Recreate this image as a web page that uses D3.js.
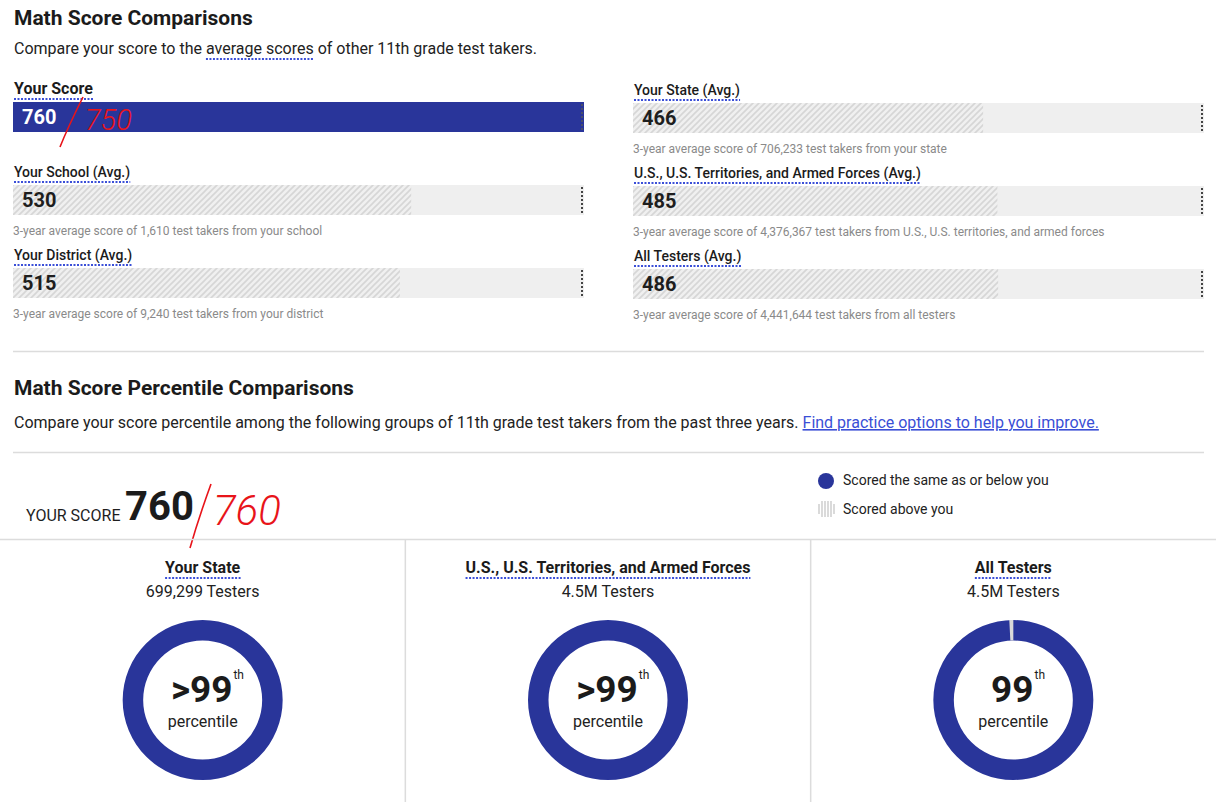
<!DOCTYPE html>
<html>
<head>
<meta charset="utf-8">
<script src="https://cdn.jsdelivr.net/npm/d3@7"></script>
<style>
  body { margin: 0; background: #fff; font-family: Roboto, "Noto Sans", sans-serif; }
  svg text { font-family: Roboto, "Noto Sans", sans-serif; }
</style>
</head>
<body>
<script>
// ---- data ----
const barLabels = ["Your Score", "Your School (Avg.)", "Your District (Avg.)",
                   "Your State (Avg.)", "U.S., U.S. Territories, and Armed Forces (Avg.)", "All Testers (Avg.)"];
const barValues = [760, 530, 515, 466, 485, 486];
const barNotes = ["",
  "3-year average score of 1,610 test takers from your school",
  "3-year average score of 9,240 test takers from your district",
  "3-year average score of 706,233 test takers from your state",
  "3-year average score of 4,376,367 test takers from U.S., U.S. territories, and armed forces",
  "3-year average score of 4,441,644 test takers from all testers"];

const groupNames = ["Your State", "U.S., U.S. Territories, and Armed Forces", "All Testers"];
const groupTesters = ["699,299 Testers", "4.5M Testers", "4.5M Testers"];
const percentileText = [">99", ">99", "99"];
const shareBelow = [99.95, 99.95, 99.2];   // % scored same or below

const yourScore = 760;

// ---- page setup ----
var width = 1219, height = 802;
var navy = "#29359a";
var dotBlue = "#3b4fd8";

var svg = d3.select("body").append("svg")
    .attr("width", width)
    .attr("height", height);

// hatch pattern for average bars
var defs = svg.append("defs");
var hatch = defs.append("pattern")
    .attr("id", "hatch")
    .attr("patternUnits", "userSpaceOnUse")
    .attr("width", 6).attr("height", 6);
hatch.append("rect").attr("width", 6).attr("height", 6).attr("fill", "#f0f0f0");
hatch.append("path")
    .attr("d", "M-1,7 L7,-1 M-4,4 L4,-4 M2,10 L10,2")
    .attr("stroke", "#d6d6d6").attr("stroke-width", 1.6);

// dotted underline helper
function underline(sel, y, color) {
  sel.each(function() {
    const bb = this.getBBox();
    d3.select(this.parentNode).append("line")
      .attr("x1", bb.x).attr("x2", bb.x + bb.width)
      .attr("y1", y).attr("y2", y)
      .attr("stroke", color || dotBlue)
      .attr("stroke-width", 2)
      .attr("stroke-dasharray", "2,1.5");
  });
}

// ----------------------------------------------------------- //
// section 1: score comparisons

svg.append("text").attr("x", 14).attr("y", 25)
  .attr("font-size", 21).attr("font-weight", 700).attr("fill", "#1b1b1b")
  .text("Math Score Comparisons");

var sub = svg.append("g");
var subText = sub.append("text").attr("x", 14).attr("y", 54)
  .attr("font-size", 16).attr("fill", "#222");
subText.append("tspan").text("Compare your score to the ");
subText.append("tspan").text("average scores");
subText.append("tspan").text(" of other 11th grade test takers.");
(function() {
  const t = subText.node();
  const pre = "Compare your score to the ".length;
  const x0 = 14 + t.getSubStringLength(0, pre);
  const w = t.getSubStringLength(pre, "average scores".length);
  sub.append("line").attr("x1", x0).attr("x2", x0 + w).attr("y1", 59).attr("y2", 59)
    .attr("stroke", dotBlue).attr("stroke-width", 2).attr("stroke-dasharray", "2,1.5");
})();

var barW = 571, barH = 30;
var xScale = d3.scaleLinear()
  .domain([0, d3.max(barValues)])
  .range([0, barW]);

var colX = [13, 633];
var rowTop = 102, rowStep = 83;

var rows = svg.selectAll("g.row")
  .data(barValues.map((v, i) => ({ v: v, label: barLabels[i], note: barNotes[i], i: i })))
  .enter().append("g")
  .attr("class", "row")
  .attr("transform", d => `translate(${colX[Math.floor(d.i / 3)]},${rowTop + (d.i % 3) * rowStep + (d.i >= 3 ? 1 : 0)})`);

rows.each(function(d) {
  const g = d3.select(this);
  const isYou = d.i === 0;

  const lab = g.append("text").attr("x", 1).attr("y", -8)
    .attr("font-size", isYou ? 16 : 14)
    .attr("font-weight", isYou ? 700 : 500)
    .attr("fill", "#1b1b1b")
    .text(d.label);
  underline(lab, -3);

  // track
  g.append("rect").attr("width", barW).attr("height", barH).attr("fill", "#efefef");
  // value
  g.append("rect").attr("width", xScale(d.v)).attr("height", barH)
    .attr("fill", isYou ? navy : "url(#hatch)");
  // your-score marker
  g.append("line")
    .attr("x1", xScale(yourScore) - 2).attr("x2", xScale(yourScore) - 2)
    .attr("y1", 2).attr("y2", barH)
    .attr("stroke", isYou ? "#4a4f6a" : "#444").attr("stroke-width", 2)
    .attr("stroke-dasharray", "2,2");

  g.append("text").attr("x", 9).attr("y", 22)
    .attr("font-size", 20).attr("font-weight", 700)
    .attr("fill", isYou ? "#fff" : "#1e1e1e")
    .text(d.v);

  if (d.note) {
    g.append("text").attr("x", 0).attr("y", 50)
      .attr("font-size", 12).attr("fill", "#8a8a8a")
      .text(d.note);
  }
});

// handwritten correction on the score bar
svg.append("path").attr("d", "M60,147 C66,132 74,115 83,97")
  .attr("fill", "none").attr("stroke", "#e8141a").attr("stroke-width", 1.6);
svg.append("text").attr("x", 85).attr("y", 130)
  .attr("font-size", 29).attr("font-weight", 300).attr("fill", "#e8141a")
  .attr("font-style", "italic")
  .text("750");

// separator
svg.append("line").attr("x1", 13).attr("x2", 1204).attr("y1", 351.5).attr("y2", 351.5)
  .attr("stroke", "#dcdcdc").attr("stroke-width", 1.5);

// ----------------------------------------------------------- //
// section 2: percentile comparisons

svg.append("text").attr("x", 14).attr("y", 395)
  .attr("font-size", 21).attr("font-weight", 700).attr("fill", "#1b1b1b")
  .text("Math Score Percentile Comparisons");

var sub2 = svg.append("text").attr("x", 14).attr("y", 428)
  .attr("font-size", 16).attr("fill", "#222");
sub2.append("tspan").text("Compare your score percentile among the following groups of 11th grade test takers from the past three years. ");
sub2.append("tspan").attr("fill", "#3a4fd6").attr("text-decoration", "underline")
  .text("Find practice options to help you improve.");

svg.append("line").attr("x1", 13).attr("x2", 1204).attr("y1", 452.5).attr("y2", 452.5)
  .attr("stroke", "#dcdcdc").attr("stroke-width", 1.5);

// your score
svg.append("text").attr("x", 26).attr("y", 521)
  .attr("font-size", 16).attr("fill", "#1e1e1e")
  .text("YOUR SCORE");
svg.append("text").attr("x", 125).attr("y", 520)
  .attr("font-size", 40).attr("font-weight", 700).attr("fill", "#1b1b1b")
  .text(yourScore);

svg.append("path").attr("d", "M190,548 C196,527 203,506 211,484")
  .attr("fill", "none").attr("stroke", "#e8141a").attr("stroke-width", 1.6);
svg.append("text").attr("x", 213).attr("y", 525)
  .attr("font-size", 42).attr("font-weight", 300).attr("fill", "#e8141a")
  .attr("font-style", "italic")
  .text("760");

// legend
var legend = svg.append("g").attr("transform", "translate(826,0)");
legend.append("circle").attr("cx", 0).attr("cy", 481).attr("r", 8).attr("fill", navy);
legend.append("text").attr("x", 17).attr("y", 485)
  .attr("font-size", 14).attr("fill", "#222").text("Scored the same as or below you");
legend.selectAll("line.tick")
  .data([-7, -4, -1, 2, 5, 8])
  .enter().append("line")
  .attr("x1", d => d).attr("x2", d => d)
  .attr("y1", d => 509 - (Math.abs(d) > 6 ? 5 : 8))
  .attr("y2", d => 509 + (Math.abs(d) > 6 ? 5 : 8))
  .attr("stroke", "#b5b5b5").attr("stroke-width", 1);
legend.append("text").attr("x", 17).attr("y", 514)
  .attr("font-size", 14).attr("fill", "#222").text("Scored above you");

// grid lines
svg.append("line").attr("x1", 0).attr("x2", 1216).attr("y1", 539.5).attr("y2", 539.5)
  .attr("stroke", "#dcdcdc").attr("stroke-width", 1.5);

var colScale = d3.scaleBand().domain(groupNames).range([0, 1216]);

svg.selectAll("line.divider")
  .data(groupNames.slice(1))
  .enter().append("line")
  .attr("class", "divider")
  .attr("x1", d => colScale(d)).attr("x2", d => colScale(d))
  .attr("y1", 540).attr("y2", height)
  .attr("stroke", "#dcdcdc").attr("stroke-width", 1.5);

// donuts
var outerR = 80, innerR = 59.5, donutY = 700;
var arc = d3.arc().innerRadius(innerR).outerRadius(outerR);
var pct = d3.scaleLinear().domain([0, 100]).range([0, 2 * Math.PI]);

groupNames.forEach(function(name, i) {
  const cx = colScale(name) + colScale.bandwidth() / 2;
  const g = svg.append("g").attr("transform", `translate(${cx},0)`);

  const t = g.append("text").attr("x", 0).attr("y", 573).attr("text-anchor", "middle")
    .attr("font-size", 16).attr("font-weight", 700).attr("fill", "#1b1b1b")
    .text(name);
  underline(t, 578);

  g.append("text").attr("x", 0).attr("y", 597).attr("text-anchor", "middle")
    .attr("font-size", 16).attr("fill", "#222")
    .text(groupTesters[i]);

  const dg = g.append("g").attr("transform", `translate(0,${donutY})`);
  // scored same or below (drawn as full ring so there is no seam)
  dg.append("path")
    .attr("d", arc({ startAngle: 0, endAngle: 2 * Math.PI }))
    .attr("fill", navy);
  // scored above - too thin to show below half a percent
  if (100 - shareBelow[i] >= 0.5) {
    dg.append("path")
      .attr("d", arc({ startAngle: pct(shareBelow[i]), endAngle: 2 * Math.PI }))
      .attr("fill", "#d9d9d9");
  }

  const pt = dg.append("text").attr("x", -1).attr("y", 2).attr("text-anchor", "middle")
    .attr("font-size", 37).attr("font-weight", 700).attr("fill", "#1b1b1b")
    .text(percentileText[i]);
  const bb = pt.node().getBBox();
  dg.append("text").attr("x", bb.x + bb.width + 1).attr("y", -21)
    .attr("font-size", 12).attr("fill", "#1b1b1b").text("th");

  dg.append("text").attr("x", 0).attr("y", 27).attr("text-anchor", "middle")
    .attr("font-size", 16).attr("fill", "#222").text("percentile");
});
</script>
</body>
</html>
